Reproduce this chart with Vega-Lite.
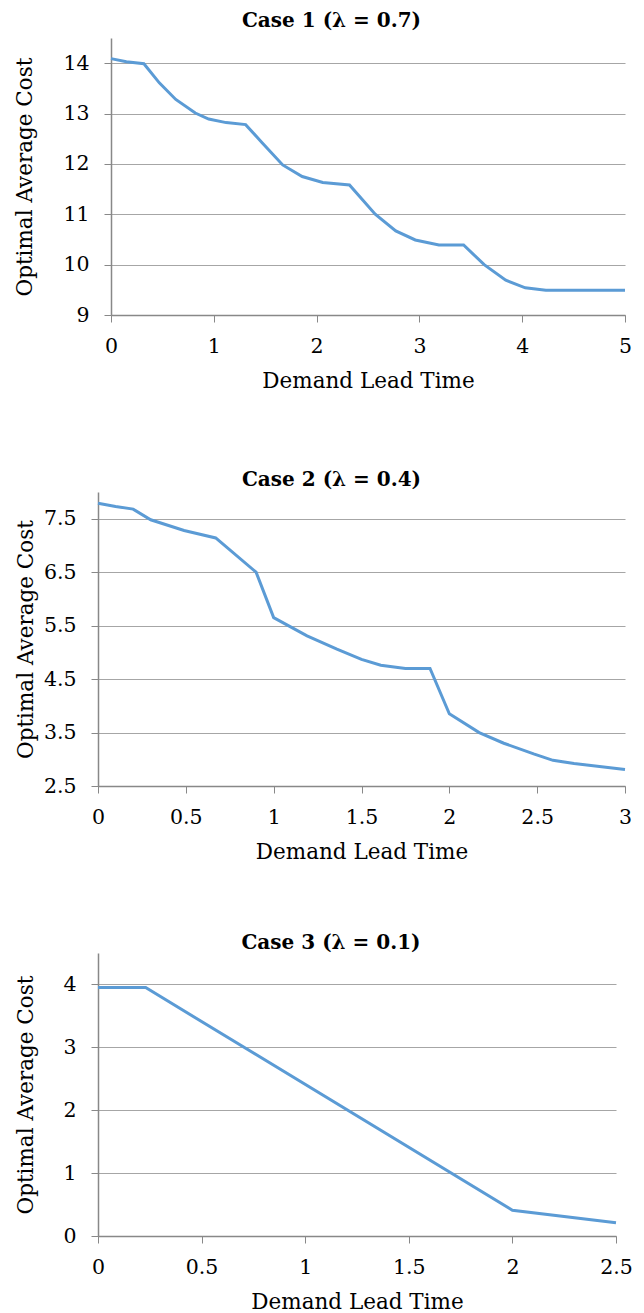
{
  "$schema": "https://vega.github.io/schema/vega-lite/v6.json",
  "description": "Optimal average cost vs demand lead time, three cases",
  "padding": {"left": 14, "top": 11, "right": 10, "bottom": 0},
  "background": "white",
  "datasets": {
    "case1": [
      {"lead": 0, "cost": 14.09},
      {"lead": 0.15, "cost": 14.03},
      {"lead": 0.32, "cost": 13.99},
      {"lead": 0.47, "cost": 13.61},
      {"lead": 0.63, "cost": 13.28},
      {"lead": 0.82, "cost": 13.01},
      {"lead": 0.95, "cost": 12.89},
      {"lead": 1.12, "cost": 12.82},
      {"lead": 1.31, "cost": 12.78},
      {"lead": 1.47, "cost": 12.42},
      {"lead": 1.67, "cost": 11.98},
      {"lead": 1.86, "cost": 11.75},
      {"lead": 2.06, "cost": 11.63},
      {"lead": 2.32, "cost": 11.58},
      {"lead": 2.57, "cost": 11.0},
      {"lead": 2.77, "cost": 10.67},
      {"lead": 2.96, "cost": 10.49},
      {"lead": 3.19, "cost": 10.39},
      {"lead": 3.43, "cost": 10.39},
      {"lead": 3.63, "cost": 10.0},
      {"lead": 3.84, "cost": 9.69},
      {"lead": 4.03, "cost": 9.54},
      {"lead": 4.23, "cost": 9.49},
      {"lead": 5, "cost": 9.49}
    ],
    "case2": [
      {"lead": 0, "cost": 7.79},
      {"lead": 0.1, "cost": 7.73},
      {"lead": 0.2, "cost": 7.68},
      {"lead": 0.3, "cost": 7.48},
      {"lead": 0.49, "cost": 7.28},
      {"lead": 0.67, "cost": 7.14},
      {"lead": 0.9, "cost": 6.5},
      {"lead": 1.0, "cost": 5.65},
      {"lead": 1.19, "cost": 5.31},
      {"lead": 1.36, "cost": 5.06},
      {"lead": 1.5, "cost": 4.87},
      {"lead": 1.61, "cost": 4.76},
      {"lead": 1.75, "cost": 4.7},
      {"lead": 1.89, "cost": 4.7},
      {"lead": 2.0, "cost": 3.85},
      {"lead": 2.17, "cost": 3.5},
      {"lead": 2.31, "cost": 3.3},
      {"lead": 2.48, "cost": 3.1},
      {"lead": 2.59, "cost": 2.98},
      {"lead": 2.71, "cost": 2.92},
      {"lead": 3.0, "cost": 2.81}
    ],
    "case3": [
      {"lead": 0, "cost": 3.95},
      {"lead": 0.23, "cost": 3.95},
      {"lead": 2.0, "cost": 0.41},
      {"lead": 2.5, "cost": 0.21}
    ]
  },
  "vconcat": [
    {
      "title": {"text": "Case 1 (λ = 0.7)", "dx": -30, "offset": 7},
      "width": 527,
      "height": 277,
      "data": {"name": "case1"},
      "mark": {"type": "line", "color": "#5B9BD5", "strokeWidth": 3},
      "encoding": {
        "x": {
          "field": "lead", "type": "quantitative",
          "title": "Demand Lead Time",
          "scale": {"domain": [0, 5], "nice": false, "range": [13, 527]},
          "axis": {"values": [0, 1, 2, 3, 4, 5], "grid": false}
        },
        "y": {
          "field": "cost", "type": "quantitative",
          "title": "Optimal Average Cost",
          "scale": {"domain": [9, 14.5], "nice": false, "zero": false},
          "axis": {"values": [9, 10, 11, 12, 13, 14], "offset": -13, "titlePadding": 26}
        }
      }
    },
    {
      "spacing": 70,
      "vconcat": [
        {
          "title": {"text": "Case 2 (λ = 0.4)", "dx": -30, "offset": 2},
          "width": 527,
          "height": 294,
          "data": {"name": "case2"},
          "mark": {"type": "line", "color": "#5B9BD5", "strokeWidth": 3},
          "encoding": {
            "x": {
              "field": "lead", "type": "quantitative",
              "title": "Demand Lead Time",
              "scale": {"domain": [0, 3], "nice": false},
              "axis": {"values": [0, 0.5, 1, 1.5, 2, 2.5, 3], "grid": false}
            },
            "y": {
              "field": "cost", "type": "quantitative",
              "title": "Optimal Average Cost",
              "scale": {"domain": [2.5, 8], "nice": false, "zero": false},
              "axis": {"values": [2.5, 3.5, 4.5, 5.5, 6.5, 7.5], "format": ".1f", "titlePadding": 6}
            }
          }
        },
        {
          "title": {"text": "Case 3 (λ = 0.1)", "dx": -26, "offset": 0},
          "width": 518,
          "height": 283,
          "data": {"name": "case3"},
          "mark": {"type": "line", "color": "#5B9BD5", "strokeWidth": 3},
          "encoding": {
            "x": {
              "field": "lead", "type": "quantitative",
              "title": "Demand Lead Time",
              "scale": {"domain": [0, 2.5], "nice": false},
              "axis": {"values": [0, 0.5, 1, 1.5, 2, 2.5], "grid": false}
            },
            "y": {
              "field": "cost", "type": "quantitative",
              "title": "Optimal Average Cost",
              "scale": {"domain": [0, 4.5], "nice": false},
              "axis": {"values": [0, 1, 2, 3, 4], "titlePadding": 25}
            }
          }
        }
      ]
    }
  ],
  "spacing": 78,
  "config": {
    "font": "DejaVu Serif",
    "view": {"stroke": null},
    "title": {
      "font": "DejaVu Serif",
      "fontSize": 20,
      "fontWeight": "bold",
      "color": "#000000",
      "anchor": "middle",
      "frame": "group"
    },
    "axis": {
      "labelFont": "DejaVu Serif",
      "labelFontSize": 20.5,
      "labelColor": "#000000",
      "titleFont": "DejaVu Serif",
      "titleFontSize": 21.5,
      "titleFontWeight": "normal",
      "titleColor": "#000000",
      "domainColor": "#888888",
      "domainWidth": 1.5,
      "tickColor": "#888888",
      "tickSize": 7,
      "tickWidth": 1,
      "gridColor": "#A6A6A6",
      "gridWidth": 1.2,
      "labelFlush": false,
      "labelOverlap": false,
      "format": "~g"
    },
    "axisX": {"labelPadding": 14, "titlePadding": 14},
    "axisY": {"labelPadding": 15}
  }
}
